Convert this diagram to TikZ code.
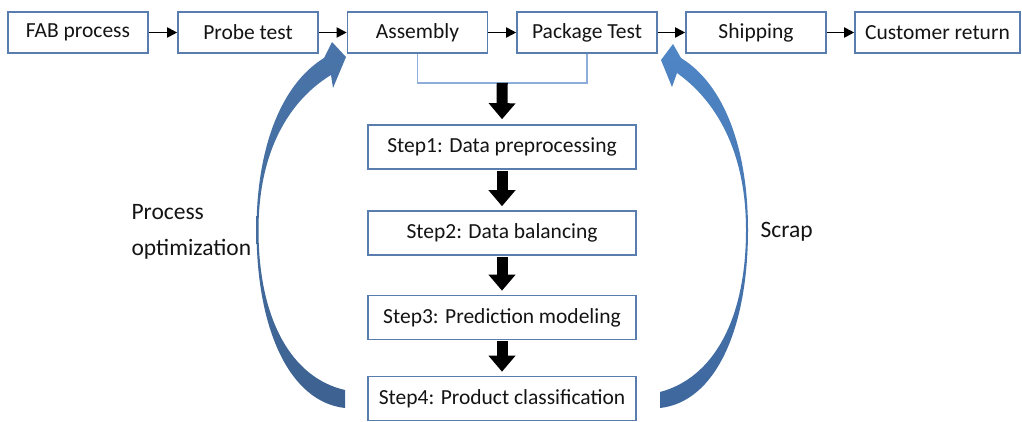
\documentclass[tikz,border=0pt]{standalone}
\usepackage{fontspec}
\setmainfont{Carlito}
\usetikzlibrary{arrows.meta,calc}
\definecolor{boxblue}{HTML}{5A7DB0}
\definecolor{brk}{HTML}{8DAEDA}
\definecolor{arrdark}{HTML}{3D6291}
\definecolor{arrmid}{HTML}{DCE6F3}
\definecolor{arrhead}{HTML}{4A75AA}
\definecolor{arrheadR}{HTML}{4F86C6}
\definecolor{arrdarkR}{HTML}{3E679D}
\begin{document}
\begin{tikzpicture}[x=1pt,y=-1pt,
  every node/.style={font=\fontsize{21.5}{34}\selectfont, text=black!92},
  label text/.style={font=\fontsize{23.5}{36}\selectfont},
  topbox/.style={draw=boxblue, line width=1.6pt, fill=white, minimum width=140pt, minimum height=41pt, inner sep=0pt},
  stepbox/.style={draw=boxblue, line width=1.6pt, fill=white, minimum width=268pt, minimum height=44pt, inner sep=0pt},
  flow/.style={draw=black, line width=1.8pt, -{Triangle[length=10pt,width=10pt]}},
  bigarrow/.style={draw=black, line width=11pt, -{Triangle[length=16pt,width=26pt]}},
  bracket/.style={draw=brk, line width=1.5pt}
]
\useasboundingbox (0,0) rectangle (1022,421);

% top row
\node[topbox] (fab) at (78,32.5) {FAB process};
\node[topbox] (probe) at (248,32.5) {Probe test};
\node[topbox] (asm) at (417.5,32.5) {Assembly};
\node[topbox] (pkg) at (587,32.5) {Package Test};
\node[topbox] (ship) at (756,32.5) {Shipping};
\node[topbox, minimum width=165pt] (cust) at (937.5,32.5) {Customer return};

\draw[flow] (fab) -- (probe);
\draw[flow] (probe) -- (asm);
\draw[flow] (asm) -- (pkg);
\draw[flow] (pkg) -- (ship);
\draw[flow] (ship) -- (cust);

% steps
\node[stepbox] (s1) at (502,147) {Step1: Data preprocessing};
\node[stepbox] (s2) at (502,233) {Step2: Data balancing};
\node[stepbox] (s3) at (502,317.5) {Step3: Prediction modeling};
\node[stepbox] (s4) at (502,398.5) {Step4: Product classification};

% bracket
\coordinate (bl) at ([yshift=-29pt]asm.south);
\coordinate (br) at ([yshift=-29pt]pkg.south);
\coordinate (bm) at ($(bl)!0.5!(br)$);
\draw[bracket] (asm.south) -- (bl) -- (br) -- (pkg.south);

\draw[bigarrow, shorten >=5pt] (bm) -- (s1.north);
\draw[bigarrow, shorten <=1pt, shorten >=4pt] (s1.south) -- (s2.north);
\draw[bigarrow, shorten <=1pt, shorten >=4pt] (s2.south) -- (s3.north);
\draw[bigarrow, shorten <=1pt, shorten >=4pt] (s3.south) -- (s4.north);

% curved arrows
\shade[top color=arrhead, middle color=arrmid, bottom color=arrdark]
  (345,390) .. controls (292,378) and (258.5,320) .. (258.5,230)
  .. controls (258.5,150) and (290,100) .. (331,75)
  -- (333,88) -- (346,57) -- (332,42) -- (324,58)
  .. controls (280,85) and (256.5,150) .. (256.5,230)
  .. controls (256.5,330) and (290,402) .. (345,408) -- cycle;

\shade[top color=arrheadR, middle color=arrmid, bottom color=arrdarkR]
  (660,392) .. controls (713,378) and (746,320) .. (746,230)
  .. controls (746,150) and (715,100) .. (677,73)
  -- (672,87) -- (661,60) -- (673,44) -- (681,58)
  .. controls (725,85) and (748,150) .. (748,230)
  .. controls (748,330) and (715,402) .. (660,408) -- cycle;

\node[label text, anchor=west, align=left] (po) at (128,232) {Process\\optimization};
\node[label text, anchor=west] (scrap) at (757,232) {Scrap};
\end{tikzpicture}
\end{document}
